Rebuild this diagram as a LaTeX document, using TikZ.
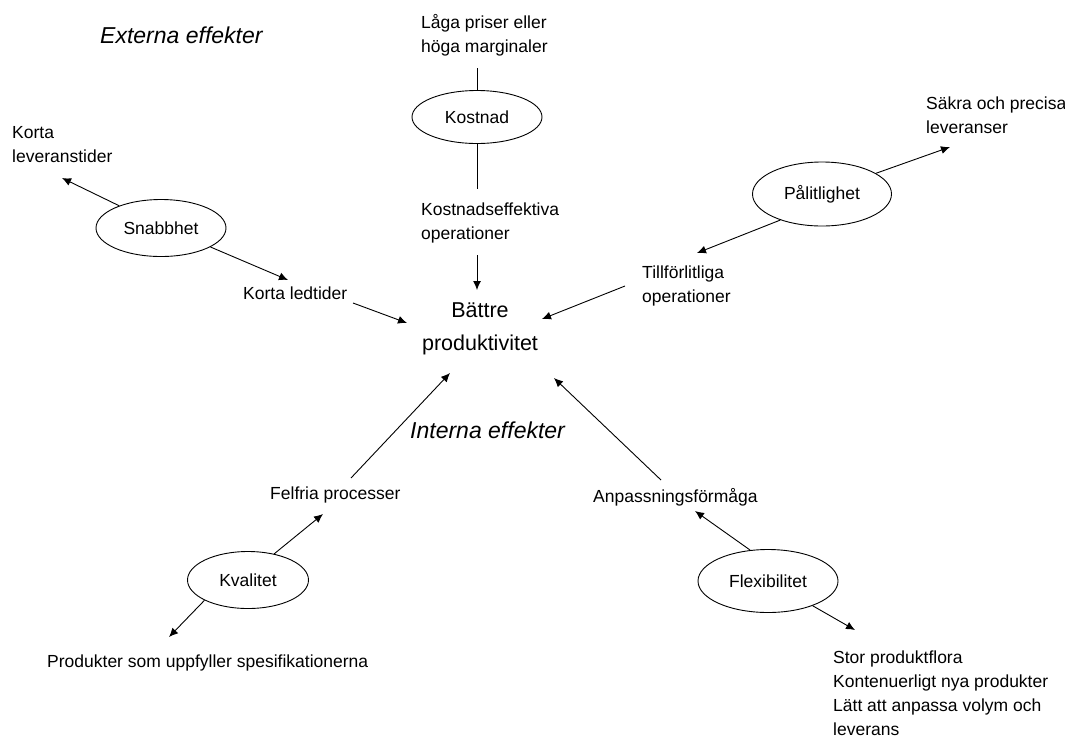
\documentclass[tikz,border=0pt]{standalone}
\usepackage{fontspec}
\setmainfont{Liberation Sans}
\usetikzlibrary{positioning}
\usetikzlibrary{arrows.meta}
\usetikzlibrary{shapes.geometric}

\begin{document}
\begin{tikzpicture}[
    x=1pt, y=-1pt,
    >={Latex[length=9pt,width=8pt]},
    % node styles
    goal/.style = {
      ellipse,
      draw,
      line width=0.9pt,
      inner sep=0pt,
      font=\fontsize{17.5}{24}\selectfont
    },
    txt/.style = {
      anchor=west,
      inner sep=0pt,
      align=left,
      font=\fontsize{17.5}{24}\selectfont
    },
    head/.style = {
      anchor=west,
      inner sep=0pt,
      font=\fontsize{23}{28}\selectfont\itshape
    },
    % arrow styles
    link/.style = {-, line width=0.9pt},
    arr/.style = {->, line width=0.9pt}
  ]
  \useasboundingbox (0,0) rectangle (1065,740);

  % --- Nodes
  \node[head] (extern) at (100,35) {Externa effekter};
  \node[head] (intern) at (410,430) {Interna effekter};

  \node[goal, minimum width=130pt, minimum height=53pt] (kost) at (477,117) {Kostnad};
  \node[goal, minimum width=130pt, minimum height=57pt] (snabb) at (161,228) {Snabbhet};
  \node[goal, minimum width=139pt, minimum height=64pt] (palit) at (822,194) {Pålitlighet};
  \node[goal, minimum width=121pt, minimum height=57pt] (kval) at (248,580) {Kvalitet};
  \node[goal, minimum width=140pt, minimum height=63pt] (flex) at (768,581) {Flexibilitet};

  \node[align=center, inner sep=0pt, font=\fontsize{21.5}{33}\selectfont]
    (battre) at (480,329) {Bättre\\produktivitet};

  \node[txt] (laga) at (421,35) {Låga priser eller\\höga marginaler};
  \node[txt] (keff) at (421,223) {Kostnadseffektiva\\operationer};
  \node[txt] (klev) at (12,145) {Korta\\leveranstider};
  \node[txt] (kled) at (243,293) {Korta ledtider};
  \node[txt] (sakra) at (926,115) {Säkra och precisa\\leveranser};
  \node[txt] (till) at (642,286) {Tillförlitliga\\operationer};
  \node[txt] (felfri) at (270,495) {Felfria processer};
  \node[txt] (prod) at (47,663) {Produkter som uppfyller spesifikationerna};
  \node[txt] (anp) at (593,497) {Anpassningsförmåga};
  \node[txt] (flexlist) at (833,693) {Stor produktflora\\Kontenuerligt nya produkter\\Lätt att anpassa volym och\\leverans};

  % --- Connector ends
  \coordinate (lagafoot) at (477,68);
  \coordinate (keffhead) at (477,189);
  \coordinate (kefffoot) at (477,255);
  \coordinate (tipbtop) at (477,290);
  \coordinate (tipklev) at (62,178);
  \coordinate (tipkled) at (288,280);
  \coordinate (kledfoot) at (353,303);
  \coordinate (tipbleft) at (407,323);
  \coordinate (tipsakra) at (950,147);
  \coordinate (tiptill) at (697,253);
  \coordinate (tillfoot) at (625,286);
  \coordinate (tipbright) at (542,319);
  \coordinate (tipfelfri) at (323,514);
  \coordinate (felfrihead) at (351,478);
  \coordinate (tipbll) at (450,373);
  \coordinate (tipprod) at (169,637);
  \coordinate (tipanp) at (695,511);
  \coordinate (anphead) at (661,480);
  \coordinate (tipblr) at (554,378);
  \coordinate (tipflex) at (855,630);

  % --- Arrows
  \draw[link] (kost.north) -- (lagafoot);
  \draw[link] (kost.south) -- (keffhead);
  \draw[arr] (kefffoot) -- (tipbtop);

  \draw[arr] (snabb.152) -- (tipklev);
  \draw[arr] (snabb.339) -- (tipkled);
  \draw[arr] (kledfoot) -- (tipbleft);

  \draw[arr] (palit.21) -- (tipsakra);
  \draw[arr] (palit.212) -- (tiptill);
  \draw[arr] (tillfoot) -- (tipbright);

  \draw[arr] (kval.45) -- (tipfelfri);
  \draw[arr] (kval.205) -- (tipprod);
  \draw[arr] (felfrihead) -- (tipbll);

  \draw[arr] (flex.120) -- (tipanp);
  \draw[arr] (flex.331) -- (tipflex);
  \draw[arr] (anphead) -- (tipblr);

\end{tikzpicture}
\end{document}
